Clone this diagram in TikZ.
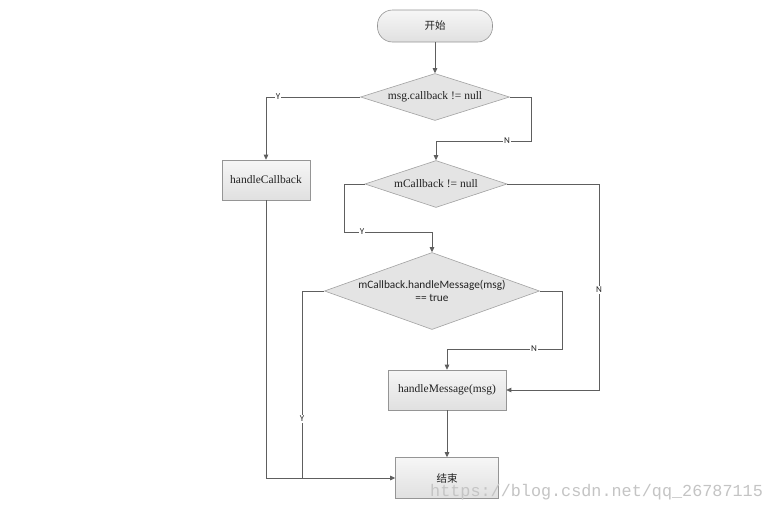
\documentclass[tikz,border=0pt]{standalone}
\usepackage{fontspec}
\setmainfont{Liberation Serif}
\newfontfamily\cjk{Noto Sans CJK SC}
\newfontfamily\labfont{Carlito}
\newfontfamily\wmfont{Liberation Mono}
\usetikzlibrary{shapes.geometric,arrows.meta,calc}
\definecolor{linegray}{HTML}{5E5E5E}
\definecolor{boxborder}{HTML}{959595}
\definecolor{boxtop}{HTML}{F6F6F6}
\definecolor{boxbot}{HTML}{E0E0E0}
\definecolor{diafill}{HTML}{E4E4E4}
\definecolor{diaborder}{HTML}{A2A2A2}
\definecolor{txt}{HTML}{222222}
\definecolor{wmgray}{HTML}{C4C4C4}
\begin{document}
\begin{tikzpicture}[x=1pt,y=-1pt,
  conn/.style={draw=linegray, line width=0.8pt},
  arr/.style={conn, -{Triangle[length=5pt,width=4.5pt]}},
  procbox/.style={draw=boxborder, line width=0.6pt, top color=boxtop, bottom color=boxbot,
     text=txt, inner sep=0pt, font=\fontsize{11.5}{13}\selectfont},
  startbox/.style={procbox, rounded corners=15pt},
  decision/.style={diamond, draw=diaborder, line width=0.6pt, fill=diafill, text=txt,
     inner sep=0pt, shape aspect=3, font=\fontsize{11.5}{13}\selectfont},
  yn/.style={font=\labfont\fontsize{9}{10}\selectfont, text=txt, fill=white, inner sep=1pt}
]
\fill[white] (0,0) rectangle (772,512);
\path[use as bounding box] (0,0) rectangle (772,512);

\node[startbox, minimum width=115pt, minimum height=32pt] (start) at (435,26) {\cjk\fontsize{10.5}{12}\selectfont 开始};
\node[decision, minimum width=149pt, minimum height=47pt] (d1) at (435,97) {msg.callback != null};
\node[procbox, minimum width=88pt, minimum height=40pt] (hc) at (266,180) {handleCallback};
\node[decision, minimum width=142pt, minimum height=47pt] (d2) at (436,184) {mCallback != null};
\node[decision, minimum width=215pt, minimum height=77pt, align=center,
      font=\labfont\fontsize{11.3}{13.5}\selectfont] (d3) at (432,291)
      {mCallback.handleMessage(msg)\\== true};
\node[procbox, minimum width=118pt, minimum height=40pt] (hm) at (447,390) {handleMessage(msg)};
\node[procbox, minimum width=103pt, minimum height=41pt] (end) at (447,478) {\cjk\fontsize{10.5}{12}\selectfont 结束};

\coordinate (c1) at (531,141);
\coordinate (c2) at (599,390);
\coordinate (c3) at (344,232);
\coordinate (c4) at (562,349);
\coordinate (c5) at (302,478);

% start -> d1
\draw[arr] (start.south) -- (d1.north);
% d1 Y -> handleCallback
\draw[arr] (d1.west) -| (hc.north);
\node[yn] at (278,97) {Y};
% d1 N -> d2
\draw[arr] (d1.east) -| (c1) -| (d2.north);
\node[yn] at (507,141) {N};
% d2 Y -> d3
\draw[arr] (d2.west) -| (c3) -| (d3.north);
\node[yn] at (362,232) {Y};
% d2 N -> handleMessage
\draw[arr] (d2.east) -| (c2) -- (hm.east);
\node[yn] at (599,290) {N};
% d3 N -> handleMessage
\draw[arr] (d3.east) -| (c4) -| (hm.north);
\node[yn] at (534,349) {N};
% d3 Y -> end line
\draw[conn] (d3.west) -| (c5);
\node[yn] at (302,419) {Y};
% handleCallback -> end
\draw[arr] (hc.south) |- (end.west);
% handleMessage -> end
\draw[arr] (hm.south) -- (end.north);

% watermark
\node[anchor=base west, inner sep=0pt, text=wmgray, font=\wmfont\fontsize{16.8}{18}\selectfont] (wm) at (430,496) {https://blog.csdn.net/qq\_26787115};
\end{tikzpicture}
\end{document}
